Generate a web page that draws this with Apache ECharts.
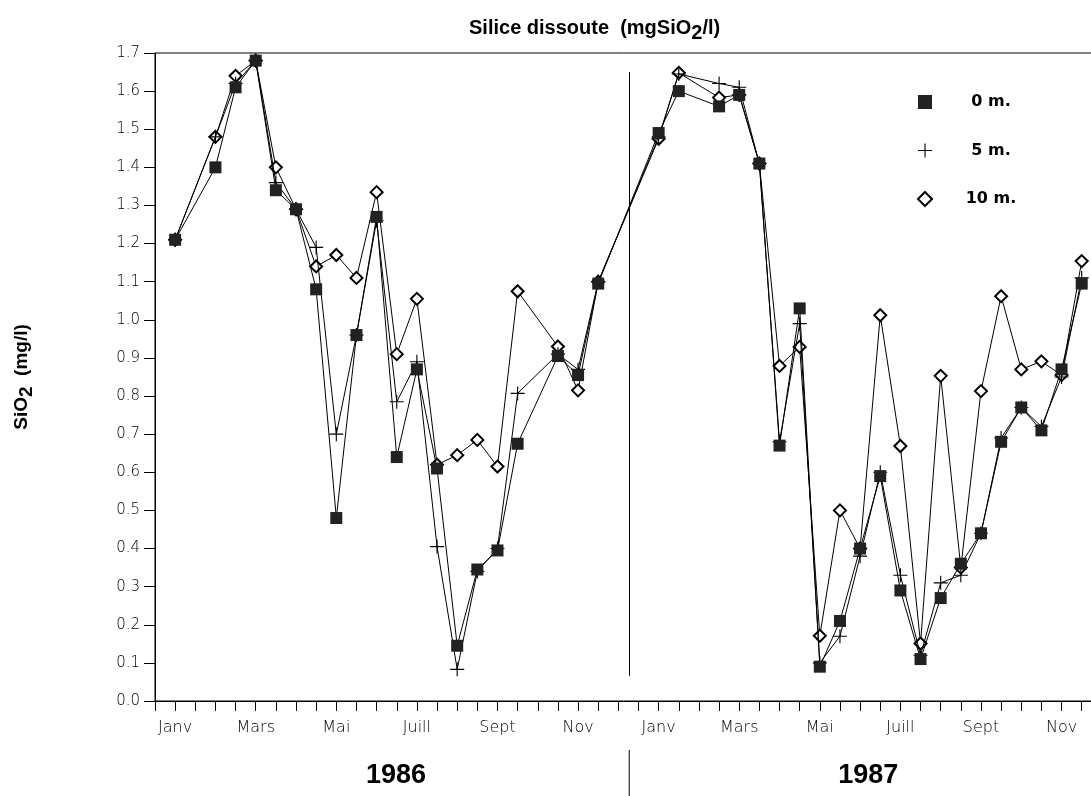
<!DOCTYPE html>
<html>
<head>
<meta charset="utf-8">
<script src="https://cdn.jsdelivr.net/npm/echarts/dist/echarts.min.js"></script>
<style>
  html, body { margin: 0; padding: 0; background: #fff; }
  #chart { width: 1091px; height: 796px; }
</style>
</head>
<body>
<div id="chart"></div>
<script>
// x = months since 1 Jan 1986 (12 = 1 Jan 1987), sampled about twice a month
var months = [0.5, 1.5, 2, 2.5, 3, 3.5, 4, 4.5, 5, 5.5, 6, 6.5, 7, 7.5, 8, 8.5, 9, 10, 10.5, 11,
  12.5, 13, 14, 14.5, 15, 15.5, 16, 16.5, 17, 17.5, 18, 18.5, 19, 19.5, 20, 20.5, 21, 21.5, 22, 22.5, 23];
var monthNames = ["Janv", "Mars", "Mai", "Juill", "Sept", "Nov"];
var years = ["1986", "1987"];
var depthNames = ["0 m.", "5 m.", "10 m."];

var depth0 = [1.21, 1.40, 1.61, 1.68, 1.34, 1.29, 1.08, 0.48, 0.96, 1.27, 0.64, 0.87, 0.61, 0.145, 0.345, 0.395, 0.675, 0.905, 0.855, 1.095,
  1.49, 1.60, 1.56, 1.59, 1.41, 0.67, 1.03, 0.09, 0.21, 0.40, 0.59, 0.29, 0.11, 0.27, 0.36, 0.44, 0.68, 0.77, 0.71, 0.87, 1.095];
var depth5 = [1.21, 1.48, 1.62, 1.68, 1.36, 1.29, 1.19, 0.70, 0.96, 1.26, 0.785, 0.89, 0.405, 0.083, 0.34, 0.40, 0.807, 0.91, 0.87, 1.10,
  1.48, 1.645, 1.62, 1.61, 1.41, 0.68, 0.99, 0.10, 0.17, 0.38, 0.60, 0.33, 0.12, 0.31, 0.33, 0.44, 0.69, 0.77, 0.72, 0.85, 1.11];
var depth10 = [1.21, 1.48, 1.64, 1.68, 1.40, 1.29, 1.14, 1.17, 1.11, 1.335, 0.91, 1.055, 0.62, 0.645, 0.685, 0.615, 1.075, 0.93, 0.815, 1.10,
  1.475, 1.648, 1.583, 1.59, 1.41, 0.879, 0.929, 0.171, 0.50, 0.40, 1.012, 0.669, 0.151, 0.853, 0.35, 0.813, 1.062, 0.87, 0.891, 0.855, 1.154];

var yearSplit = 11.77;
var plusIcon = "path://M4.6,0H5.4V4.6H10V5.4H5.4V10H4.6V5.4H0V4.6H4.6Z";

function pairs(vals) {
  return months.map(function (m, i) { return [m, vals[i]]; });
}

var chart = echarts.init(document.getElementById("chart"));
var option = {
  backgroundColor: "#fff",
  animation: false,
  title: {
    text: "Silice dissoute  (mgSiO{s|2}/l)",
    left: 464,
    top: 8,
    textStyle: {
      fontFamily: "Liberation Sans Narrow, Liberation Sans",
      fontWeight: "bold",
      fontSize: 20,
      color: "#000",
      rich: {
        s: { fontFamily: "Liberation Sans Narrow, Liberation Sans", fontWeight: "bold", fontSize: 20, color: "#000", padding: [10, 0, 0, 0] }
      }
    }
  },
  legend: {
    orient: "vertical",
    left: 912,
    top: 89,
    itemWidth: 14,
    itemHeight: 14,
    itemGap: 32.5,
    formatter: "{a|{name}}",
    textStyle: {
      rich: {
        a: { width: 108, align: "center", fontFamily: "DejaVu Sans", fontWeight: "bold", fontSize: 16, color: "#000" }
      }
    },
    data: [
      { name: depthNames[0], icon: "rect", itemStyle: { color: "#222" } },
      { name: depthNames[1], icon: plusIcon, itemStyle: { color: "#000" } },
      { name: depthNames[2], icon: "emptyDiamond", itemStyle: { color: "#000", borderColor: "#000", borderWidth: 1 } }
    ]
  },
  grid: {
    left: 155,
    top: 53,
    width: 967,
    height: 648,
    outerBoundsMode: "none",
    show: true,
    borderColor: "#000",
    borderWidth: 1,
    backgroundColor: "transparent"
  },
  xAxis: {
    type: "value",
    min: 0,
    max: 24,
    interval: 0.5,
    axisLine: { lineStyle: { color: "#000", width: 1 } },
    axisTick: { length: 10, lineStyle: { color: "#000" } },
    splitLine: { show: false },
    axisLabel: {
      margin: 19,
      color: "#000",
      fontFamily: "DejaVu Sans",
      fontWeight: 200,
      fontSize: 16,
      formatter: function (v) {
        var m = Math.round(v * 2);
        if (m % 4 === 1) return monthNames[((m - 1) / 4) % 6];
        return "";
      }
    }
  },
  yAxis: {
    type: "value",
    min: 0,
    max: 1.7,
    interval: 0.1,
    name: "SiO{s|2}  (mg/l)",
    nameLocation: "middle",
    nameRotate: 90,
    nameGap: 119,
    nameTextStyle: {
      fontFamily: "Liberation Sans",
      fontWeight: "bold",
      fontSize: 19,
      color: "#000",
      rich: {
        s: { fontFamily: "Liberation Sans", fontWeight: "bold", fontSize: 19, color: "#000", padding: [10, 0, 0, 0] }
      }
    },
    axisLine: { lineStyle: { color: "#000", width: 1 } },
    axisTick: { length: 11, lineStyle: { color: "#000" } },
    splitLine: { show: false },
    axisLabel: {
      margin: 15,
      color: "#000",
      fontFamily: "DejaVu Sans",
      fontWeight: 200,
      fontSize: 15,
      formatter: function (v) { return v.toFixed(1); }
    }
  },
  series: [
    {
      name: depthNames[2],
      type: "line",
      data: pairs(depth10),
      symbol: "emptyDiamond",
      symbolSize: 12,
      itemStyle: { color: "#000", borderWidth: 1 },
      lineStyle: { color: "#000", width: 1 },
      z: 2
    },
    {
      name: depthNames[1],
      type: "line",
      data: pairs(depth5),
      symbol: plusIcon,
      symbolSize: 14,
      itemStyle: { color: "#000" },
      lineStyle: { color: "#000", width: 1 },
      z: 3
    },
    {
      name: depthNames[0],
      type: "line",
      data: pairs(depth0),
      symbol: "rect",
      symbolSize: 12,
      itemStyle: { color: "#222" },
      lineStyle: { color: "#000", width: 1 },
      z: 4,
      markLine: {
        silent: true,
        symbol: "none",
        label: { show: false },
        lineStyle: { color: "#000", width: 1, type: "solid" },
        data: [[{ coord: [yearSplit, 0.066] }, { coord: [yearSplit, 1.65] }]]
      }
    }
  ]
};
chart.setOption(option);

// year captions and the divider below the axis
var splitX = chart.convertToPixel({ xAxisIndex: 0 }, yearSplit);
var x86 = chart.convertToPixel({ xAxisIndex: 0 }, 5.98);
var x87 = chart.convertToPixel({ xAxisIndex: 0 }, 17.7);
chart.setOption({
  graphic: [
    { type: "line", shape: { x1: splitX, y1: 750, x2: splitX, y2: 796 }, style: { stroke: "#000", lineWidth: 1 } },
    { type: "text", x: x86, y: 776, style: { text: years[0], textAlign: "center", textVerticalAlign: "middle", font: "bold 27px 'Liberation Sans'", fill: "#000" } },
    { type: "text", x: x87, y: 776, style: { text: years[1], textAlign: "center", textVerticalAlign: "middle", font: "bold 27px 'Liberation Sans'", fill: "#000" } }
  ]
});
</script>
</body>
</html>
